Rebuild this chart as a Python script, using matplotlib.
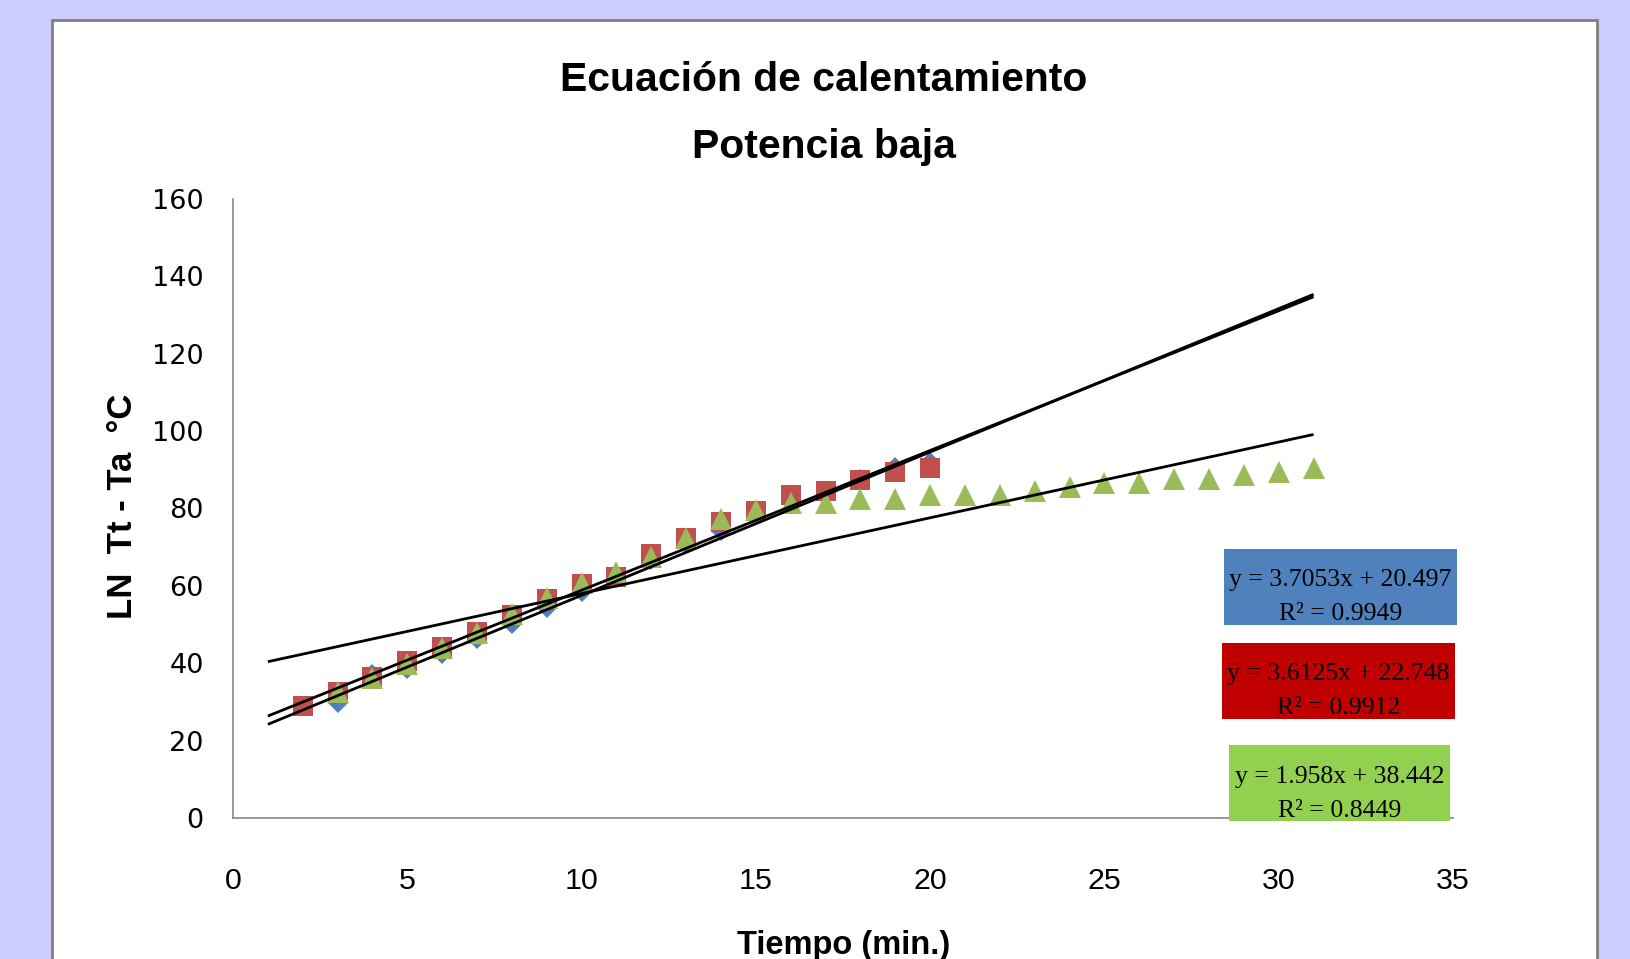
import matplotlib
matplotlib.use("Agg")
import matplotlib.pyplot as plt
from matplotlib import font_manager
from matplotlib.patches import Rectangle

# ---- data ----
minutes_blue = list(range(3, 21))
temps_blue = [29.7, 37.1, 38.6, 42.3, 46.3, 50.2, 54.3, 58.3, 62.0, 66.8,
              70.9, 74.3, 78.8, 82.3, 84.4, 87.7, 90.7, 92.1]

minutes_red = list(range(2, 21))
temps_red = [29.0, 32.6, 36.4, 40.7, 44.3, 48.1, 52.5, 56.6, 60.6, 62.4,
             68.2, 72.5, 76.6, 79.4, 83.5, 84.6, 87.4, 89.5, 90.4]

minutes_green = list(range(3, 32))
temps_green = [32.6, 36.1, 39.7, 43.9, 47.7, 52.7, 56.8, 60.7, 63.7, 67.5,
               72.5, 77.4, 79.7, 81.5, 81.5, 82.5, 82.5, 83.6, 83.6, 83.6,
               84.6, 85.6, 86.6, 86.6, 87.6, 87.6, 88.6, 89.5, 90.5]

fit_slopes = [3.7053, 3.6125, 1.958]
fit_intercepts = [20.497, 22.748, 38.442]
fit_eq_labels = ["y = 3.7053x + 20.497", "y = 3.6125x + 22.748", "y = 1.958x + 38.442"]
fit_r2_labels = ["R² = 0.9949", "R² = 0.9912", "R² = 0.8449"]
fit_range = [1, 31]

x_ticks = [0, 5, 10, 15, 20, 25, 30, 35]
y_ticks = [0, 20, 40, 60, 80, 100, 120, 140, 160]

title_lines = ["Ecuación de calentamiento", "Potencia baja"]
x_label = "Tiempo (min.)"
y_label = "LN  Tt - Ta  °C"

# ---- fonts ----
installed = {f.name for f in font_manager.fontManager.ttflist}
if "Liberation Sans Narrow" in installed:
    narrow, nscale = "Liberation Sans Narrow", 1.0
else:
    narrow, nscale = "Liberation Sans", 0.84

W, H = 1630, 959
fig = plt.figure(figsize=(W / 100, H / 100), dpi=100, facecolor="#CCCCFF")


def fx(px):
    return px / W


def fy(py):
    return 1 - py / H


# white chart panel
fig.patches.append(Rectangle((fx(52), fy(1000)), fx(1597) - fx(52), fy(20) - fy(1000),
                             transform=fig.transFigure, facecolor="white",
                             edgecolor="#808080", lw=2.0, zorder=-1))

ax = fig.add_axes([fx(233), fy(818), fx(1453) - fx(233), fy(199) - fy(818)])
ax.set_facecolor("none")
ax.set_xlim(0, 35)
ax.set_ylim(0, 160)

mk = dict(linestyle="none", markeredgewidth=0)
ax.plot(minutes_blue, temps_blue, marker="D", markersize=10, color="#4F81BD", zorder=2, **mk)
ax.plot(minutes_red, temps_red, marker="s", markersize=14.5, color="#C0504D", zorder=3, **mk)
ax.plot(minutes_green, temps_green, marker="^", markersize=15.5, color="#9BBB59", zorder=4, **mk)

for m, b in zip(fit_slopes, fit_intercepts):
    ax.plot(fit_range, [m * fit_range[0] + b, m * fit_range[1] + b],
            color="black", lw=2.0, zorder=5, solid_capstyle="butt")

for s in ("top", "right"):
    ax.spines[s].set_visible(False)
for s in ("left", "bottom"):
    ax.spines[s].set_color("#868686")
    ax.spines[s].set_linewidth(1.2)

ax.set_xticks(x_ticks)
ax.set_yticks(y_ticks)
ax.tick_params(axis="both", length=0)
ax.tick_params(axis="x", pad=35)
ax.tick_params(axis="y", pad=21)
for lab in ax.get_xticklabels():
    lab.set_fontfamily(narrow)
    lab.set_fontsize(26 * nscale)
for lab in ax.get_yticklabels():
    lab.set_fontfamily("DejaVu Sans")
    lab.set_fontsize(19.5)

# titles and axis labels
fig.text(fx(824), fy(91), title_lines[0], ha="center", va="baseline",
         fontsize=35 * nscale, fontweight="bold", family=narrow)
fig.text(fx(824), fy(158), title_lines[1], ha="center", va="baseline",
         fontsize=35 * nscale, fontweight="bold", family=narrow)
fig.text(fx(844), fy(954), x_label, ha="center", va="baseline",
         fontsize=28 * nscale, fontweight="bold", family=narrow)
fig.text(fx(122), fy(506), y_label, ha="center", va="center", rotation=90,
         fontsize=25, fontweight="bold", family="Liberation Sans")

# regression equation boxes
box_colors = ["#4F81BD", "#C00000", "#92D050"]
box_x = [(1224, 1457), (1222, 1455), (1229, 1450)]
box_y = [(549, 625), (643, 719), (745, 821)]
base_y = [(586, 620), (680, 714), (783, 817)]
for i in range(3):
    x0, x1 = box_x[i]
    y0, y1 = box_y[i]
    fig.patches.append(Rectangle((fx(x0), fy(y1)), fx(x1) - fx(x0), fy(y0) - fy(y1),
                                 transform=fig.transFigure, facecolor=box_colors[i],
                                 edgecolor="none", zorder=1))
    cx = fx((x0 + x1) / 2)
    fig.text(cx, fy(base_y[i][0]), fit_eq_labels[i], ha="center", va="baseline",
             fontsize=18.5, family="Liberation Serif", color="black", zorder=6)
    fig.text(cx, fy(base_y[i][1]), fit_r2_labels[i], ha="center", va="baseline",
             fontsize=18.5, family="Liberation Serif", color="black", zorder=6)

fig.savefig("out.png", dpi=100, facecolor=fig.get_facecolor())
